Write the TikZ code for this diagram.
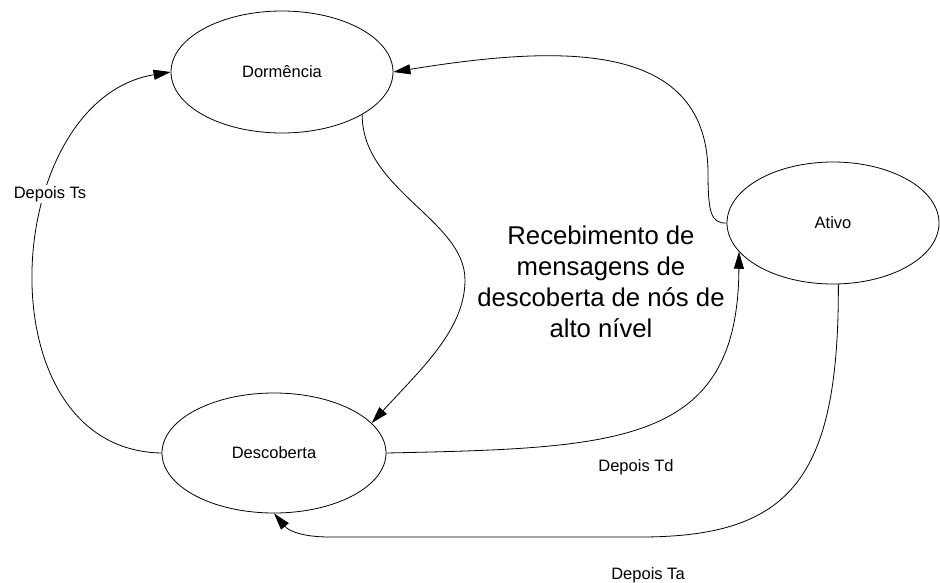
\documentclass[tikz,border=0pt]{standalone}
\usepackage{fontspec}
\setmainfont{Liberation Sans}
\usetikzlibrary{shapes,
	arrows.meta,
	positioning}

\begin{document}
\begin{tikzpicture}[x=1pt, y=-1pt,
	estado/.style={ellipse, draw, line width=0.8pt, inner sep=0pt, minimum width=222pt, minimum height=122pt, font=\fontsize{16.5}{19}\selectfont},
	rotulo/.style={inner sep=1pt, font=\fontsize{16.5}{19}\selectfont},
	seta/.style={line width=0.8pt, -{Triangle[length=17pt, width=10pt]}}]
	\useasboundingbox (0, 0) rectangle (940, 582);
	% Estados
	\node[estado] (dormencia) at (282, 72) {Dormência};
	\node[estado, minimum width=212pt] (ativo) at (833, 223) {Ativo};
	\node[estado, minimum width=224pt, minimum height=120pt] (descoberta) at (274, 453) {Descoberta};
	% Transicoes
	\draw[seta] (descoberta.west) .. controls (-20, 450) and (0, 100) .. (dormencia.west);
	\draw[seta] (dormencia.-28) .. controls (362, 190) and (465, 220) .. (465, 280)
		.. controls (465, 330) and (420, 370) .. (descoberta.17);
	\draw[seta] (descoberta.east) .. controls (620, 448) and (738, 445) .. (ativo.197);
	\draw[seta] (ativo.west) .. controls (710, 224) and (708, 210) .. (708, 170)
		.. controls (705, 40) and (560, 45) .. (dormencia.east);
	\draw[seta] (ativo.-85) .. controls (839, 480) and (790, 537) .. (640, 537) -- (330, 537)
		.. controls (300, 537) and (288, 530) .. (descoberta.south);
	% Rotulos
	\node[rotulo, fill=white] (depoists) at (50, 194) {Depois Ts};
	\node[rotulo] (depoistd) at (636, 467) {Depois Td};
	\node[rotulo] (depoista) at (648, 575) {Depois Ta};
	\node[inner sep=0pt, align=center, font=\fontsize{25.7}{31}\selectfont] (recebimento) at (601, 282) {Recebimento de\\mensagens de\\descoberta de nós de\\alto nível};
\end{tikzpicture}
\end{document}
